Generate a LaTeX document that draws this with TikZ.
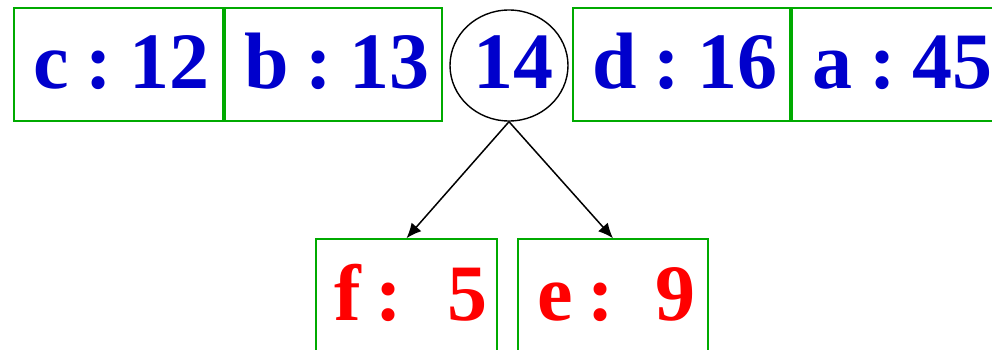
\documentclass[tikz,border=0pt]{standalone}
\usepackage{fontspec}
\setmainfont{Liberation Serif}
\newfontfamily\lblfont{Liberation Serif}
\usetikzlibrary{arrows.meta,shapes.geometric}
\definecolor{boxgreen}{RGB}{0,170,0}
\definecolor{lblblue}{RGB}{0,0,204}
\definecolor{lblred}{RGB}{255,0,0}
\newcommand{\lblgap}{\hspace{17pt}}
\tikzset{
  box/.style={draw=boxgreen, line width=1.5pt, rectangle, inner sep=0pt},
  lbl/.style={anchor=base west, inner sep=0pt, font=\lblfont\bfseries\fontsize{80}{82}\selectfont},
  conn/.style={draw=black, line width=1.5pt, -{Latex[length=15pt,width=13pt]}}
}
\begin{document}
\begin{tikzpicture}[x=1pt,y=1pt]
\useasboundingbox (0,0) rectangle (992,349);
\clip (0,0) rectangle (992,349);
% top row boxes
\node[box, minimum width=209pt, minimum height=113pt] (c) at (118.5,284.5) {};
\node[box, minimum width=217pt, minimum height=113pt] (b) at (333.5,284.5) {};
\node[draw=black, line width=1.4pt, ellipse, minimum width=118pt, minimum height=111pt, inner sep=0pt] (t) at (509,283.5) {};
\node[box, minimum width=217pt, minimum height=113pt] (d) at (681.5,284.5) {};
\node[box, minimum width=230pt, minimum height=113pt] (a) at (907,284.5) {};
% bottom boxes
\node[box, minimum width=181pt, minimum height=130pt] (f) at (406.5,45) {};
\node[box, minimum width=190pt, minimum height=130pt] (e) at (613,45) {};
% labels
\node[lbl, text=lblblue] (cl) at (33,261) {c\lblgap:\lblgap12};
\node[lbl, text=lblblue] (bl) at (244,261) {b\lblgap:\lblgap13};
\node[lbl, text=lblblue] (tl) at (473,261) {14};
\node[lbl, text=lblblue] (dl) at (592,261) {d\lblgap:\lblgap16};
\node[lbl, text=lblblue] (al) at (812,261) {a\lblgap:\lblgap45};
\node[lbl, text=lblred] (fl) at (334,29) {f\hspace{15pt}:\hspace{45pt}5};
\node[lbl, text=lblred] (el) at (537,29) {e\hspace{15pt}:\hspace{41pt}9};
% connectors
\draw[conn] (t.south) -- (f.north);
\draw[conn] (t.south) -- (e.north);
\end{tikzpicture}
\end{document}
